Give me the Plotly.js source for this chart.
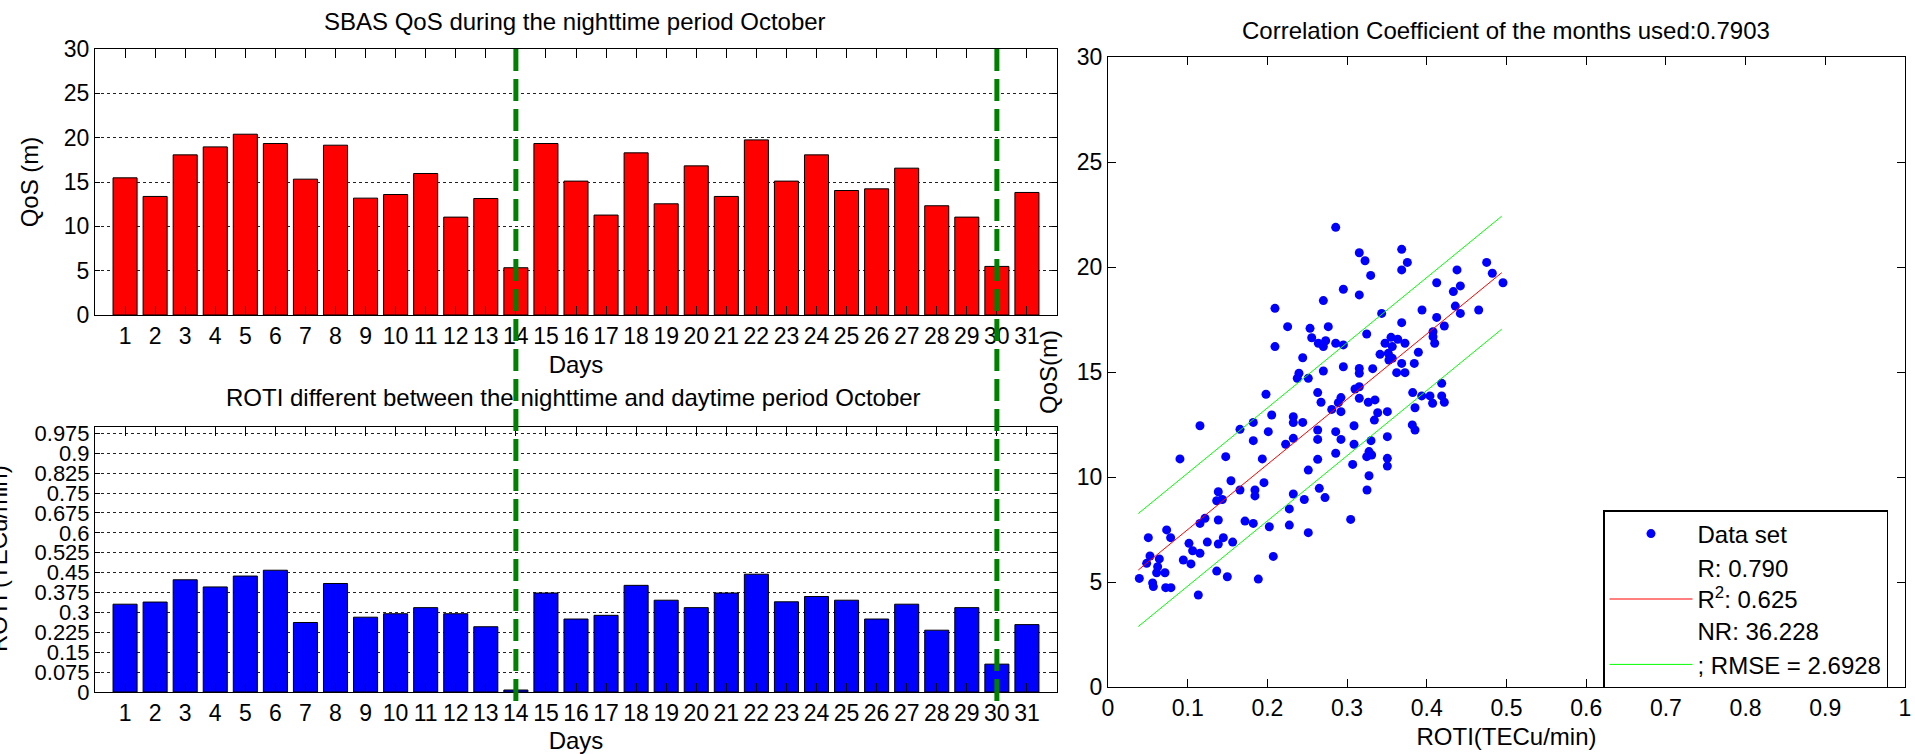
<!DOCTYPE html>
<html>
<head>
<meta charset="utf-8">
<script src="https://cdn.plot.ly/plotly-3.0.1.min.js"></script>
<style>html,body{margin:0;padding:0;background:#fff;}#chart{width:1915px;height:754px;}</style>
</head>
<body>
<div id="chart"></div>
<script>
// ---- Data ----
const days = [1,2,3,4,5,6,7,8,9,10,11,12,13,14,15,16,17,18,19,20,21,22,23,24,25,26,27,28,29,30,31];
const dayLabels = ['1','2','3','4','5','6','7','8','9','10','11','12','13','14','15','16','17','18','19','20','21','22','23','24','25','26','27','28','29','30','31'];
const qosNight = [15.47,13.37,18.06,18.96,20.39,19.34,15.32,19.15,13.18,13.59,15.96,11.04,13.14,5.33,19.34,15.10,11.27,18.29,12.54,16.82,13.37,19.75,15.10,18.06,14.04,14.23,16.56,12.32,11.04,5.48,13.82];
const rotiDiff = [0.331,0.339,0.423,0.396,0.437,0.459,0.262,0.409,0.282,0.295,0.318,0.295,0.246,0.0075,0.373,0.275,0.289,0.402,0.346,0.318,0.373,0.444,0.340,0.360,0.346,0.275,0.331,0.233,0.318,0.105,0.254];
const markedDays = [14, 30];

const qosTicks = [0,5,10,15,20,25,30];
const rotiTicks = [0,0.075,0.15,0.225,0.3,0.375,0.45,0.525,0.6,0.675,0.75,0.825,0.9,0.975];
const rotiTickText = ['0','0.075','0.15','0.225','0.3','0.375','0.45','0.525','0.6','0.675','0.75','0.825','0.9','0.975'];
const corrXTicks = [0,0.1,0.2,0.3,0.4,0.5,0.6,0.7,0.8,0.9,1];
const corrXTickText = ['0','0.1','0.2','0.3','0.4','0.5','0.6','0.7','0.8','0.9','1'];

// scatter: ROTI (TECu/min) vs QoS (m)
const scatterRoti = [
 0.2095,0.2254,0.2095,0.2443,0.2396,0.2375,0.1982,
 0.2857,0.3685,0.3153,0.3225,0.3756,0.3685,0.4751,0.4379,0.4822,0.4956,0.3296,0.4124,
 0.4421,0.4333,0.2953,0.3153,0.2702,0.4358,0.3940,0.4651,0.4421,0.3434,0.4124,0.3685,0.4220,0.2535,0.2764,0.4078,0.3246,0.2556,0.4078,0.2639,0.2731,0.2857,0.2953,0.2702,0.3551,0.3635,0.3476,0.3726,0.4099,0.3567,0.3517,0.3413,0.3894,0.3567,0.3525,0.3685,0.3843,
 0.2953,0.2702,0.3153,0.3153,0.3321,0.3622,0.3726,0.2513,0.4187,0.3153,0.3099,0.2631,0.3823,0.3936,0.4040,0.4187,0.2673,0.2923,0.3153,0.2890,0.3266,0.3350,0.4073,0.4220,0.2807,0.3852,
 0.2054,0.2325,0.2325,0.2443,0.1823,0.1154,0.1656,0.2011,0.1823,0.2325,0.2229,0.0903,0.1477,0.1936,0.1543,0.1656,0.1957,0.1844,0.1844,0.1384,0.1364,0.1434,0.2325,0.2463,0.2275,0.1217,0.1154,0.1384,0.1719,0.1823,0.2024,0.2275,0.0736,0.0506,0.0786,0.1016,0.1246,0.1447,0.1384,0.1564,0.1062,0.1154,0.0527,0.0644,0.0945,0.1041,0.2074,0.0485,0.0623,0.0610,0.0715,0.1364,0.0393,0.1497,0.1886,0.0569,0.0560,0.0724,0.0790,0.1133,
 0.2923,0.3384,0.3505,0.3342,0.2631,0.2631,0.2857,0.2923,0.3087,0.3087,0.3300,0.3505,0.3818,0.3852,0.2857,0.2631,0.3275,0.3246,0.3308,0.3070,0.3505,0.3505,0.2513,0.3275,0.2651,0.2723,0.3250,0.3045,0.2513
];
const scatterQos = [
 18.03,17.16,16.21,15.68,14.94,14.70,13.94,
 21.89,20.84,20.68,20.30,20.22,19.86,20.22,19.86,19.70,19.25,19.60,19.25,
 19.10,18.83,18.94,18.67,18.40,18.14,17.95,17.95,17.79,17.79,17.60,17.35,17.19,17.08,17.16,16.92,16.81,16.63,16.68,16.37,16.49,16.37,16.29,16.21,16.65,16.56,16.37,16.37,16.37,16.21,15.89,15.84,15.94,15.65,15.57,15.41,15.41,
 15.25,15.05,15.17,14.94,15.16,14.97,14.97,14.70,14.46,14.30,14.19,14.02,14.02,13.86,13.86,13.86,13.56,13.78,13.75,13.54,13.56,13.67,13.51,13.56,13.22,13.30,
 12.95,12.87,12.59,12.60,12.60,12.44,12.27,12.16,11.73,11.84,11.56,10.86,10.97,10.86,9.82,9.38,9.73,9.38,9.10,9.30,8.87,8.93,9.19,8.93,8.48,8.03,7.79,7.95,7.90,7.79,7.63,7.71,7.48,7.11,7.11,6.84,6.90,7.11,6.81,6.90,6.49,6.37,6.24,6.10,6.05,5.86,6.22,5.89,5.73,5.44,5.44,5.52,5.17,5.25,5.14,4.78,4.95,4.73,4.73,4.38,
 13.11,13.06,13.11,12.71,12.24,11.79,12.16,11.79,12.44,11.56,11.73,11.92,12.48,12.24,11.13,10.84,11.21,10.97,11.05,10.60,10.89,10.52,10.33,10.06,9.46,9.02,9.38,7.98,7.35
];

// fitted line and +/- RMSE bounds (end points)
const fitX = [0.038, 0.494];
const fitY = [5.57, 19.73];
const upperY = [8.26, 22.42];
const lowerY = [2.88, 17.04];

// ---- Figure ----
const FONT = 'Liberation Sans, Arial, Helvetica, sans-serif';
const tickFont = {family: FONT, size: 23, color: '#000'};
const titleFont = {family: FONT, size: 24, color: '#000'};

const traces = [
  {type:'bar', x: days, y: qosNight, xaxis:'x', yaxis:'y', width:0.8,
   marker:{color:'#ff0000', line:{color:'#000', width:1}}, showlegend:false, hoverinfo:'x+y'},
  {type:'bar', x: days, y: rotiDiff, xaxis:'x2', yaxis:'y2', width:0.8,
   marker:{color:'#0000ff', line:{color:'#000', width:1}}, showlegend:false, hoverinfo:'x+y'},
  {type:'scatter', mode:'markers', x: scatterRoti, y: scatterQos, xaxis:'x3', yaxis:'y3',
   marker:{color:'#0000ff', size:9}, name:'Data set'},
  {type:'scatter', mode:'lines', x: fitX, y: fitY, xaxis:'x3', yaxis:'y3',
   line:{color:'#ff0000', width:1}, name:'R: 0.790<br>R<sup>2</sup>: 0.625<br>NR: 36.228'},
  {type:'scatter', mode:'lines', x: fitX, y: upperY, xaxis:'x3', yaxis:'y3',
   line:{color:'#00ff00', width:1}, name:'; RMSE = 2.6928'},
  {type:'scatter', mode:'lines', x: fitX, y: lowerY, xaxis:'x3', yaxis:'y3',
   line:{color:'#00ff00', width:1}, showlegend:false}
];

const W = 1915, H = 754, ML = 95, MR = 10, MT = 49, MB = 62;
const PW = W - ML - MR, PH = H - MT - MB;
const px = v => (v - ML) / PW;          // pixel x -> paper x
const py = v => (H - MB - v) / PH;      // pixel y -> paper y

const baseAxis = {
  showline:true, linecolor:'#000', linewidth:1, mirror:'ticks',
  ticks:'inside', ticklen:9, tickcolor:'#000', tickwidth:1,
  tickfont: tickFont, zeroline:false, showgrid:false, fixedrange:true
};

const leftX = [0, px(1057)];
const rightX = [px(1108), 1];

const layout = {
  width: W, height: H,
  margin: {l: ML, r: MR, t: MT, b: MB},
  paper_bgcolor:'#fff', plot_bgcolor:'#fff',
  font: {family: FONT, color:'#000'},
  bargap: 0.2,
  xaxis: Object.assign({}, baseAxis, {domain: leftX, anchor:'y', range:[0,32],
    tickmode:'array', tickvals: days, ticktext: dayLabels,
    title:{text:'Days', font: titleFont, standoff: 8}}),
  yaxis: Object.assign({}, baseAxis, {domain:[py(315), 1], anchor:'x', range:[0,30],
    tickmode:'array', tickvals: qosTicks, ticklen:5,
    showgrid:true, gridcolor:'#222', griddash:'dot', gridwidth:1,
    title:{text:'QoS (m)', font: titleFont, standoff: 18}}),
  xaxis2: Object.assign({}, baseAxis, {domain: leftX, anchor:'y2', range:[0,32],
    tickmode:'array', tickvals: days, ticktext: dayLabels,
    title:{text:'Days', font: titleFont, standoff: 8}}),
  yaxis2: Object.assign({}, baseAxis, {domain:[0, py(426.7)], anchor:'x2', range:[0,1],
    tickmode:'array', tickvals: rotiTicks, ticktext: rotiTickText, ticklen:5,
    tickfont:{family: FONT, size: 22, color:'#000'},
    showgrid:true, gridcolor:'#222', griddash:'dot', gridwidth:1}),
  xaxis3: Object.assign({}, baseAxis, {domain: rightX, anchor:'y3', range:[0,1],
    tickmode:'array', tickvals: corrXTicks, ticktext: corrXTickText, ticklen:8,
    title:{text:'ROTI(TECu/min)', font: titleFont, standoff: 8}}),
  yaxis3: Object.assign({}, baseAxis, {domain:[py(687), py(57)], anchor:'x3', range:[0,30],
    tickmode:'array', tickvals: qosTicks, ticklen:8,
    title:{text:'QoS(m)', font: titleFont, standoff: 12}}),
  showlegend: true,
  legend: {x: px(1603), y: py(510), xanchor:'left', yanchor:'top',
    bgcolor:'#fff', bordercolor:'#000', borderwidth:1.5,
    font:{family: FONT, size: 24, color:'#000'}, itemwidth: 83, valign:'middle',
    tracegroupgap: 4},
  annotations: [
    {text:'SBAS QoS during the nighttime period October', xref:'paper', yref:'paper',
     x: px(575), y: py(21), xanchor:'center', yanchor:'middle', showarrow:false, font: titleFont},
    {text:'ROTI different between the nighttime and daytime period October', xref:'paper', yref:'paper',
     x: px(573), y: py(397), xanchor:'center', yanchor:'middle', showarrow:false, font: titleFont},
    {text:'Correlation Coefficient of the months used:0.7903', xref:'paper', yref:'paper',
     x: px(1506), y: py(30), xanchor:'center', yanchor:'middle', showarrow:false, font: titleFont},
    {text:'ROTI (TECu/min)', xref:'paper', yref:'paper', textangle:-90,
     x: px(-2), y: py(559), xanchor:'center', yanchor:'middle', showarrow:false, font: titleFont}
  ],
  shapes: markedDays.map(d => ({
    type:'line', xref:'x', yref:'paper', x0:d, x1:d, y0:1, y1:py(706), layer:'above',
    line:{color:'#008000', width:5, dash:'22px,8px'}
  }))
};

Plotly.newPlot('chart', traces, layout, {staticPlot:true, displayModeBar:false});
</script>
</body>
</html>
